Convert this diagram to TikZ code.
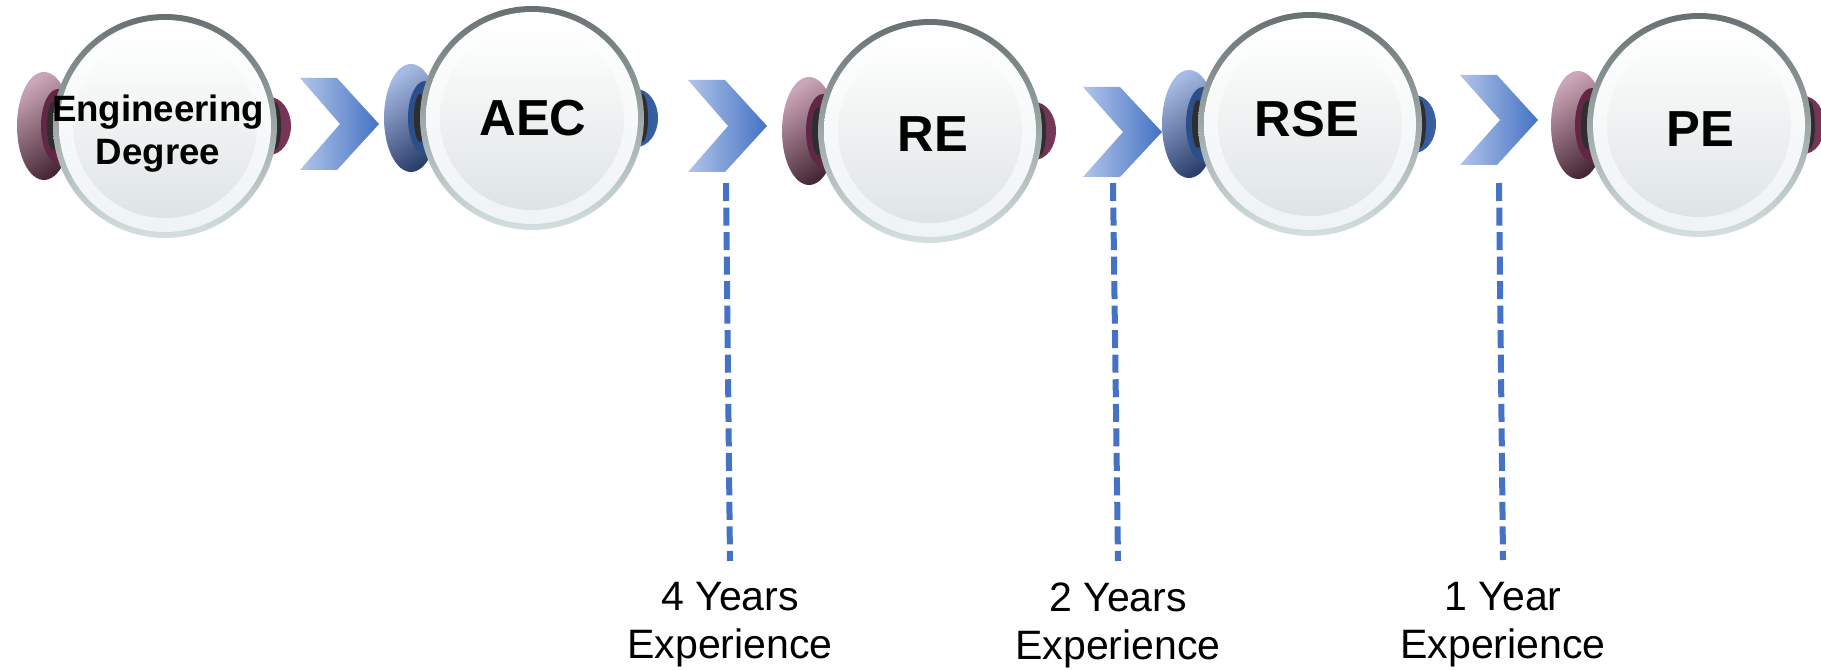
\documentclass[tikz,border=0pt]{standalone}
\usepackage{fontspec}
\setmainfont{Liberation Sans}
\usetikzlibrary{positioning}

\definecolor{chevlight}{RGB}{178,197,233}
\definecolor{chevdark}{RGB}{68,114,196}
\definecolor{maroonlight}{RGB}{203,166,184}
\definecolor{maroonmid}{RGB}{122,56,90}
\definecolor{maroondark}{RGB}{72,40,54}
\definecolor{maroondeep}{RGB}{96,40,68}
\definecolor{bluelight}{RGB}{166,187,228}
\definecolor{bluemid}{RGB}{58,96,166}
\definecolor{bluedark}{RGB}{44,64,108}
\definecolor{bluedeep}{RGB}{44,78,138}
\definecolor{rimtop}{RGB}{104,112,113}
\definecolor{rimbottom}{RGB}{212,224,224}
\definecolor{facemid}{RGB}{186,195,196}
\definecolor{facebottom}{RGB}{238,243,243}
\definecolor{innerbottom}{RGB}{222,228,228}
\definecolor{axle}{RGB}{46,46,46}

\tikzset{every picture/.style={line width=0.75pt}}

\begin{document}
\begin{tikzpicture}[x=0.75pt,y=0.75pt,yscale=-1,xscale=1,
  chevron/.style={left color=chevlight, right color=chevdark},
  maroonear/.style={top color=maroonlight, middle color=maroonmid, bottom color=maroondark, shading angle=35},
  maroonin/.style={fill=maroondeep},
  maroonback/.style={left color=maroondeep, right color=maroonmid},
  blueear/.style={top color=bluelight, middle color=bluemid, bottom color=bluedark, shading angle=35},
  bluein/.style={fill=bluedeep},
  blueback/.style={left color=bluedeep, right color=bluemid},
  axlebit/.style={fill=axle},
  ball/.style={circle, inner sep=0pt, minimum size=168pt, top color=rimtop, bottom color=rimbottom,
    path picture={\shade[top color=white, middle color=facemid, bottom color=facebottom] (path picture bounding box.center) circle (106);
      \shade[top color=white, bottom color=innerbottom] (path picture bounding box.center) circle (92);}},
  balltext/.style={font=\bfseries\fontsize{38}{44}\selectfont, inner sep=0pt},
  stepline/.style={chevdark, line width=4.5pt, dash pattern=on 13.5pt off 4.9pt},
  explabel/.style={align=center, inner sep=0pt, font=\fontsize{30.8}{36}\selectfont}]
    \useasboundingbox (0,0) rectangle (1821,670);

    %Shape: Ears, Engineering Degree
    \shade[maroonear] (44,126) ellipse [x radius=27, y radius=54];
    \fill[maroonin] (58,126) ellipse [x radius=17, y radius=37];
    \fill[axlebit] (53,126) ellipse [x radius=6, y radius=24];
    \shade[maroonback] (269,126) ellipse [x radius=22, y radius=29];
    \fill[axlebit] (275,126) ellipse [x radius=6, y radius=24];
    %Shape: Ears, AEC
    \shade[blueear] (411,118) ellipse [x radius=27, y radius=54];
    \fill[bluein] (425,118) ellipse [x radius=17, y radius=37];
    \fill[axlebit] (420,118) ellipse [x radius=6, y radius=24];
    \shade[blueback] (636,118) ellipse [x radius=22, y radius=29];
    \fill[axlebit] (642,118) ellipse [x radius=6, y radius=24];
    %Shape: Ears, RE
    \shade[maroonear] (809,131) ellipse [x radius=27, y radius=54];
    \fill[maroonin] (823,131) ellipse [x radius=17, y radius=37];
    \fill[axlebit] (818,131) ellipse [x radius=6, y radius=24];
    \shade[maroonback] (1034,131) ellipse [x radius=22, y radius=29];
    \fill[axlebit] (1040,131) ellipse [x radius=6, y radius=24];
    %Shape: Ears, RSE
    \shade[blueear] (1189,124) ellipse [x radius=27, y radius=54];
    \fill[bluein] (1203,124) ellipse [x radius=17, y radius=37];
    \fill[axlebit] (1198,124) ellipse [x radius=6, y radius=24];
    \shade[blueback] (1414,124) ellipse [x radius=22, y radius=29];
    \fill[axlebit] (1420,124) ellipse [x radius=6, y radius=24];
    %Shape: Ears, PE
    \shade[maroonear] (1578,125) ellipse [x radius=27, y radius=54];
    \fill[maroonin] (1592,125) ellipse [x radius=17, y radius=37];
    \fill[axlebit] (1587,125) ellipse [x radius=6, y radius=24];
    \shade[maroonback] (1803,125) ellipse [x radius=22, y radius=29];
    \fill[axlebit] (1809,125) ellipse [x radius=6, y radius=24];

    %Shape: Balls
    \node[ball] (ed) at (165,126) {};
    \node[ball] (aec) at (532,118) {};
    \node[ball] (re) at (930,131) {};
    \node[ball] (rse) at (1310,124) {};
    \node[ball] (pe) at (1699,125) {};

    % Text Node
    \node[balltext, align=center, font=\bfseries\fontsize{27.5}{32.3}\selectfont] (edlabel) at (158,134) {Engineering\\Degree};
    % Text Node
    \node[balltext] (aeclabel) at (533,118) {AEC};
    % Text Node
    \node[balltext] (relabel) at (933,134) {RE};
    % Text Node
    \node[balltext] (rselabel) at (1307,119) {RSE};
    % Text Node
    \node[balltext] (pelabel) at (1700,129) {PE};

    %Shape: Chevrons
    \shade[chevron] (300,78) -- (337,78) -- (379,124) -- (337,170) -- (300,170) -- (340,124) -- cycle;
    \shade[chevron] (688,80) -- (725,80) -- (767,126) -- (725,172) -- (688,172) -- (728,126) -- cycle;
    \shade[chevron] (1083,87) -- (1120,87) -- (1162,132) -- (1120,177) -- (1083,177) -- (1123,132) -- cycle;
    \shade[chevron] (1460,75) -- (1497,75) -- (1538,120) -- (1497,165) -- (1460,165) -- (1500,120) -- cycle;

    %Straight Lines
    \coordinate (d1) at (726,183);
    \coordinate (e1) at (730,561);
    \coordinate (d2) at (1113,183);
    \coordinate (e2) at (1118,561);
    \coordinate (d3) at (1499,183);
    \coordinate (e3) at (1503,560);
    \draw[stepline] (d1) -- (e1);
    \draw[stepline] (d2) -- (e2);
    \draw[stepline] (d3) -- (e3);

    % Text Node
    \node[explabel, below=15.75pt of e1] (yrs4) {4 Years\\Experience};
    % Text Node
    \node[explabel, below=15.75pt of e2] (yrs2) {2 Years\\Experience};
    % Text Node
    \node[explabel, below=16.5pt of e3] (yrs1) {1 Year\\Experience};
\end{tikzpicture}
\end{document}
